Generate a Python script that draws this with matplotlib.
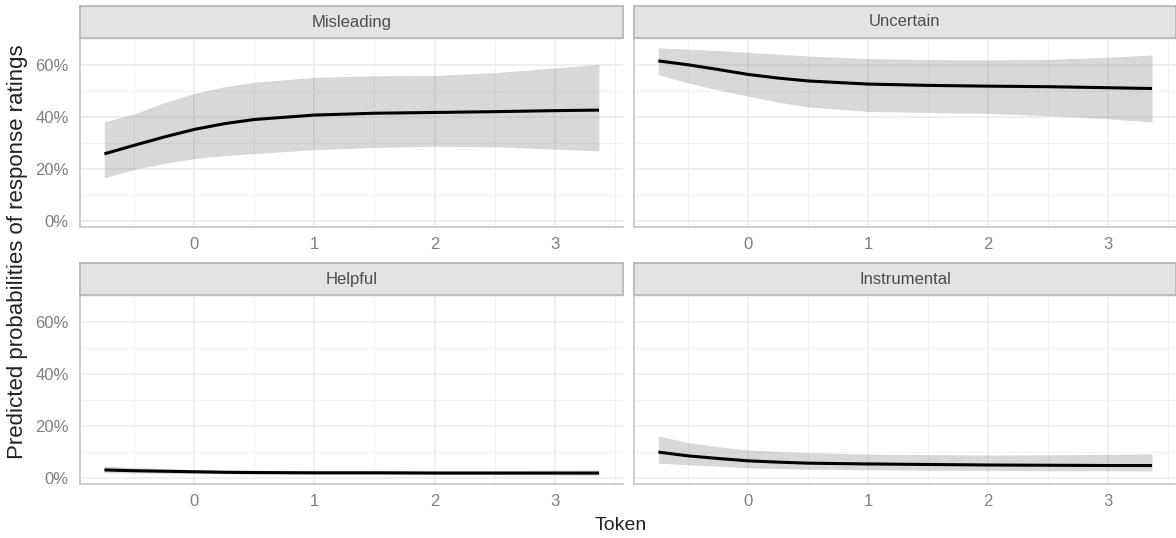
import numpy as np
import matplotlib
matplotlib.use("Agg")
import matplotlib.pyplot as plt
from matplotlib.ticker import PercentFormatter, MultipleLocator

plt.rcParams['font.family'] = ['Liberation Sans', 'DejaVu Sans']

# Token values where the curves were read
token = [-0.75, -0.5, -0.25, 0, 0.25, 0.5, 1, 1.5, 2, 2.5, 3, 3.37]

# Misleading
mis_fit = [0.258, 0.291, 0.323, 0.352, 0.374, 0.390, 0.407, 0.414, 0.417, 0.420, 0.424, 0.426]
mis_hi = [0.381, 0.412, 0.455, 0.490, 0.516, 0.533, 0.552, 0.558, 0.559, 0.570, 0.588, 0.602]
mis_lo = [0.166, 0.198, 0.221, 0.240, 0.251, 0.259, 0.274, 0.282, 0.287, 0.285, 0.276, 0.269]

# Uncertain
unc_fit = [0.615, 0.600, 0.582, 0.563, 0.549, 0.538, 0.526, 0.521, 0.518, 0.516, 0.512, 0.509]
unc_hi = [0.665, 0.660, 0.655, 0.648, 0.641, 0.634, 0.624, 0.620, 0.619, 0.621, 0.629, 0.638]
unc_lo = [0.562, 0.530, 0.503, 0.480, 0.456, 0.438, 0.421, 0.417, 0.413, 0.405, 0.393, 0.380]

# Helpful
hel_fit = [0.031, 0.028, 0.026, 0.024, 0.022, 0.021, 0.020, 0.020, 0.019, 0.019, 0.019, 0.019]
hel_hi = [0.046, 0.040, 0.036, 0.033, 0.031, 0.030, 0.029, 0.029, 0.029, 0.029, 0.030, 0.031]
hel_lo = [0.021, 0.019, 0.018, 0.017, 0.016, 0.015, 0.014, 0.014, 0.013, 0.013, 0.012, 0.011]

# Instrumental
ins_fit = [0.0995, 0.085, 0.075, 0.066, 0.061, 0.057, 0.054, 0.052, 0.050, 0.049, 0.048, 0.048]
ins_hi = [0.162, 0.136, 0.120, 0.108, 0.102, 0.098, 0.092, 0.090, 0.088, 0.089, 0.091, 0.093]
ins_lo = [0.057, 0.051, 0.045, 0.039, 0.036, 0.034, 0.032, 0.030, 0.029, 0.028, 0.028, 0.027]

panels = [
    ("Misleading", mis_fit, mis_lo, mis_hi),
    ("Uncertain", unc_fit, unc_lo, unc_hi),
    ("Helpful", hel_fit, hel_lo, hel_hi),
    ("Instrumental", ins_fit, ins_lo, ins_hi),
]

W, H = 1176, 538
fig = plt.figure(figsize=(W / 100, H / 100), dpi=100)

# panel boxes in pixels: left, right, top, bottom
lefts = [80, 634]
rights = [623, 1176]
tops = [38, 295]
bottoms = [227, 484]
strip_h = 32

for i, (name, fit, lo, hi) in enumerate(panels):
    r, c = divmod(i, 2)
    x0, x1 = lefts[c], rights[c]
    yt, yb = tops[r], bottoms[r]
    ax = fig.add_axes([x0 / W, 1 - yb / H, (x1 - x0) / W, (yb - yt) / H])
    ax.fill_between(token, lo, hi, color="#808080", alpha=0.3, lw=0, zorder=2)
    ax.plot(token, fit, color="black", lw=2.2, zorder=3, solid_capstyle="butt")
    ax.set_xlim(-0.953, 3.57)
    ax.set_ylim(-0.023, 0.703)
    ax.xaxis.set_major_locator(MultipleLocator(1))
    ax.xaxis.set_minor_locator(MultipleLocator(0.5))
    ax.yaxis.set_major_locator(MultipleLocator(0.2))
    ax.yaxis.set_minor_locator(MultipleLocator(0.1))
    ax.yaxis.set_major_formatter(PercentFormatter(1.0, decimals=0))
    ax.grid(which="major", color="#EBEBEB", lw=1.1, zorder=0)
    ax.grid(which="minor", color="#F2F2F2", lw=0.8, zorder=0)
    ax.set_axisbelow(True)
    for s in ["top", "right"]:
        ax.spines[s].set_visible(False)
    for s in ["left", "bottom"]:
        ax.spines[s].set_color("#C4C4C4")
        ax.spines[s].set_linewidth(1.2)
    ax.tick_params(which="both", length=0, labelsize=12, labelcolor="#7F7F7F")
    ax.tick_params(axis="x", pad=7)
    ax.tick_params(axis="y", pad=8)
    if c == 1:
        ax.tick_params(axis="y", labelleft=False)

    # facet strip
    sax = fig.add_axes([x0 / W, 1 - yt / H, (x1 - x0) / W, strip_h / H])
    sax.set_facecolor("#E3E3E3")
    sax.set_xticks([])
    sax.set_yticks([])
    for s in sax.spines.values():
        s.set_color("#B3B3B3")
        s.set_linewidth(1.2)
    sax.text(0.5, 0.5, name, ha="center", va="center", fontsize=12,
             color="#4D4D4D", transform=sax.transAxes)

fig.text(18 / W, 1 - 252 / H, "Predicted probabilities of response ratings",
         rotation=90, ha="center", va="center", fontsize=16, color="#222222")
fig.text(621 / W, 1 - 525 / H, "Token", ha="center", va="center",
         fontsize=14, color="#222222")

fig.savefig("out.png", dpi=100)
